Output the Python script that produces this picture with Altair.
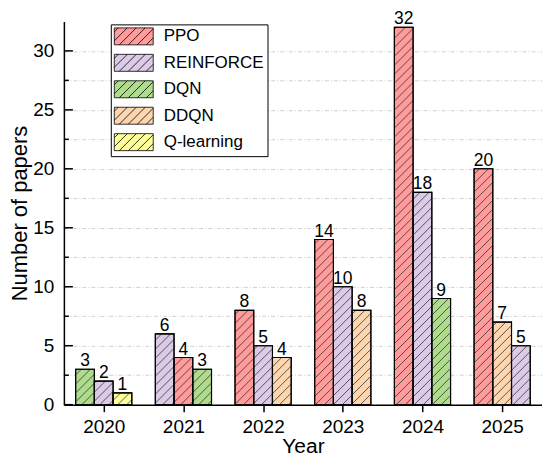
import altair as alt
import pandas as pd
import numpy as np

# ---------------- data ----------------
years = [2020, 2021, 2022, 2023, 2024, 2025]
methods = ["PPO", "REINFORCE", "DQN", "DDQN", "Q-learning"]
ppo = [None, 4, 8, 14, 32, 20]
reinforce = [2, 6, 5, 10, 18, 5]
dqn = [3, 3, None, None, 9, None]
ddqn = [None, None, 4, 8, None, 7]
qlearning = [1, None, None, None, None, None]
colors = ["#FF9B9B", "#DCCBE7", "#AEDC8C", "#FDD6AF", "#FFFF99"]
y_major = [0, 5, 10, 15, 20, 25, 30]
y_minor = [2.5, 7.5, 12.5, 17.5, 22.5, 27.5]

# ---------------- layout constants ----------------
W, H = 479, 384
XD = [2019.5, 2025.5]
YD = [0, 32.5]
BW = 0.235          # bar width in year units
HATCH = 9.0         # hatch spacing (px, vertical)
FONT = "Liberation Sans"

series = {"PPO": ppo, "REINFORCE": reinforce, "DQN": dqn,
          "DDQN": ddqn, "Q-learning": qlearning}

recs = []
for i, yr in enumerate(years):
    items = [(m, series[m][i]) for m in methods if series[m][i] is not None]
    items.sort(key=lambda t: -t[1])
    for slot, (m, v) in enumerate(items):
        xc = yr + (slot - 1) * BW
        recs.append(dict(year=yr, method=m, value=v, base=0,
                         xc=xc, x0=xc - BW / 2, x1=xc + BW / 2))
bars = pd.DataFrame(recs)

# hatch segments derived from the bars (45 degree lines, clipped to each bar)
PPX = W / (XD[1] - XD[0])
PPY = H / (YD[1] - YD[0])
hl = []
for r in recs:
    xl = (r["x0"] - XD[0]) * PPX
    xr = (r["x1"] - XD[0]) * PPX
    h = r["value"] * PPY
    kmin = int(np.ceil(-xr / HATCH))
    kmax = int(np.floor((h - xl) / HATCH))
    for k in range(kmin, kmax + 1):
        c = k * HATCH
        u0 = max(xl, -c)
        u1 = min(xr, h - c)
        if u1 - u0 > 0.8:
            hl.append(dict(hx0=XD[0] + u0 / PPX, hy0=(u0 + c) / PPY,
                           hx1=XD[0] + u1 / PPX, hy1=(u1 + c) / PPY))
hatch = pd.DataFrame(hl)

# legend swatch: rectangle with hatch, as a custom symbol path
R = 8.5
SW, SH = 39.0, 17.0
parts = [f"M-1,-1H{-1 + SW / R:.3f}V1H-1Z"]
for k in range(int(np.ceil(-SW / HATCH)), int(np.floor(SH / HATCH)) + 1):
    c = k * HATCH + 4
    u0 = max(0.0, -c)
    u1 = min(SW, SH - c)
    if u1 - u0 > 1:
        X0, Y0 = -1 + u0 / R, 1 - (u0 + c) / R
        X1, Y1 = -1 + u1 / R, 1 - (u1 + c) / R
        parts.append(f"M{X0:.3f},{Y0:.3f}L{X1:.3f},{Y1:.3f}")
swatch_path = "".join(parts)

xscale = alt.Scale(domain=XD, nice=False, zero=False)
yscale = alt.Scale(domain=YD, nice=False)
y_all = sorted(y_major + y_minor)

X_AXIS = alt.Axis(values=years, format="d", grid=False, tickSize=7,
                  tickColor="black", tickWidth=1.5, domainColor="black",
                  domainWidth=1.5, labelFontSize=19, labelPadding=6,
                  labelColor="black", title="Year", titleFontSize=21,
                  titleFontWeight="normal", titleColor="black",
                  titlePadding=-1)
Y_AXIS = alt.Axis(values=y_all,
                  labelExpr="datum.value % 5 === 0 ? datum.label : ''",
                  grid=True, gridColor="#c4c4c4", gridDash=[4, 2, 1, 2],
                  gridWidth=0.8, ticks=False, tickSize=0,
                  domainColor="black", domainWidth=1.5,
                  labelFontSize=19, labelPadding=10, labelColor="black",
                  title="Number of papers", titleFontSize=22,
                  titleFontWeight="normal", titleColor="black",
                  titlePadding=1)


def X(field):
    return alt.X(field, scale=xscale, axis=X_AXIS, title="Year")


def Y(field):
    return alt.Y(field, scale=yscale, axis=Y_AXIS, title="Number of papers")


base = alt.Chart(bars)

bar_layer = base.mark_rect(stroke="black", strokeWidth=1.1).encode(
    x=X("x0:Q"),
    x2="x1:Q",
    y=Y("value:Q"),
    y2="base:Q",
    fill=alt.Fill("method:N", scale=alt.Scale(domain=methods, range=colors),
                  legend=alt.Legend(title=None, orient="none", legendX=47,
                                    legendY=3, symbolType=swatch_path,
                                    symbolSize=R * R * 4,
                                    symbolStrokeColor="black",
                                    symbolStrokeWidth=0.8, symbolOpacity=1,
                                    labelFontSize=17, labelOffset=32,
                                    labelColor="black", labelFont=FONT,
                                    rowPadding=4.5, padding=3,
                                    strokeColor="black", fillColor="white")),
)

hatch_layer = alt.Chart(hatch).mark_rule(color="#2a2a2a", strokeWidth=0.75).encode(
    x=X("hx0:Q"),
    x2="hx1:Q",
    y=Y("hy0:Q"),
    y2="hy1:Q",
)

outline_layer = base.mark_rect(fillOpacity=0, stroke="black", strokeWidth=1.1).encode(
    x=X("x0:Q"),
    x2="x1:Q",
    y=Y("value:Q"),
    y2="base:Q",
)

text_layer = base.mark_text(fontSize=17.5, baseline="alphabetic", dy=-3,
                            color="black", font=FONT).encode(
    x=X("xc:Q"),
    y=Y("value:Q"),
    text="value:Q",
)

major_ticks = alt.Chart(pd.DataFrame({"v": y_major})).mark_rule(
    color="black", strokeWidth=1.5).encode(
    y=Y("v:Q"),
    x=alt.value(0), x2=alt.value(9),
)
minor_ticks = alt.Chart(pd.DataFrame({"v": y_minor})).mark_rule(
    color="black", strokeWidth=1.5).encode(
    y=Y("v:Q"),
    x=alt.value(0), x2=alt.value(5),
)

chart = alt.layer(
    bar_layer, hatch_layer, outline_layer, text_layer, major_ticks, minor_ticks
).properties(
    width=W, height=H,
    autosize=alt.AutoSizeParams(type="none"),
    padding={"left": 56, "top": 13, "right": 0, "bottom": 53},
).configure(font=FONT).configure_view(stroke=None)

chart.save("out.html", embed_options={"renderer": "svg", "actions": False})
